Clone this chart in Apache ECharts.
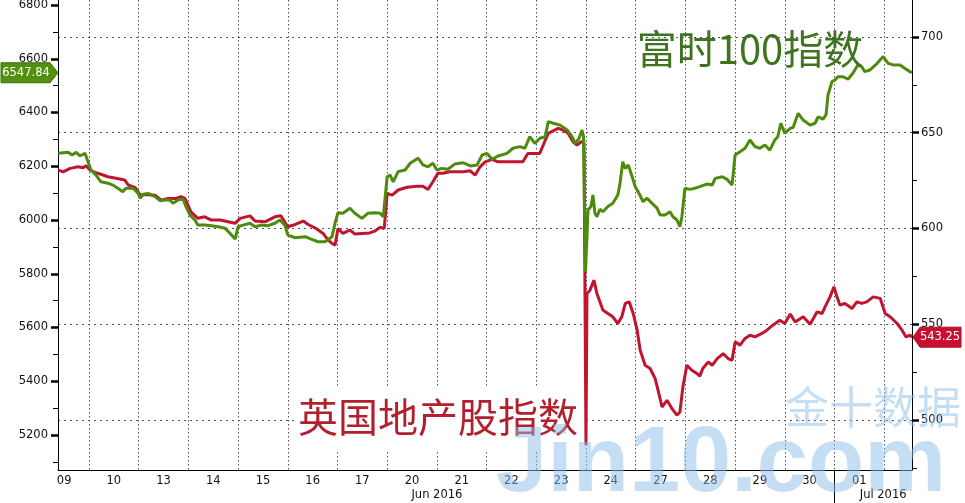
<!DOCTYPE html>
<html><head><meta charset="utf-8">
<script src="https://cdn.jsdelivr.net/npm/echarts@6/dist/echarts.min.js"></script>
<style>html,body{margin:0;padding:0;background:#fff}#c{width:965px;height:503px}</style>
</head><body><div id="c"></div>
<script>
// ---- data (x = trading-day position: day k spans [k-1, k]) ----
const dayLabels = ['09','10','13','14','15','16','17','20','21','22','23','24','27','28','29','30','01'];
const dayLabelPos = [0.5,1.5,2.5,3.5,4.5,5.5,6.5,7.5,8.5,9.5,10.5,11.5,12.5,13.5,14.5,15.5,16.5];
const dayBoundaries = [1,2,3,4,5,6,7,8,9,10,11,12,13,14,15,16,17];
const monthLabels = ['Jun 2016','Jul 2016'];
const monthLabelPos = [8.0, 16.98];
const monthBoundary = [16];
const leftMajor = [5200,5400,5600,5800,6000,6200,6400,6600,6800];
const leftMinor = [5100,5300,5500,5700,5900,6100,6300,6500,6700];
const rightMajor = [500,550,600,650,700];
const rightMinor = [475,525,575,625,675];

const ftseDays = [0.38,0.58,0.66,0.74,0.82,0.92,0.98,1.04,1.14,1.24,1.38,1.48,1.58,1.68,1.74,1.89,1.99,2.03,2.09,2.19,2.33,2.43,2.53,2.63,2.69,2.79,2.89,2.95,3.03,3.13,3.19,3.33,3.46,3.60,3.74,3.84,3.94,4.00,4.10,4.24,4.34,4.46,4.60,4.74,4.84,4.94,5.00,5.15,5.35,5.47,5.61,5.75,5.79,5.89,5.95,6.01,6.11,6.25,6.35,6.49,6.61,6.76,6.86,6.92,6.96,7.00,7.06,7.12,7.22,7.36,7.46,7.62,7.72,7.82,7.92,8.00,8.10,8.22,8.36,8.53,8.67,8.81,8.91,9.01,9.11,9.23,9.41,9.53,9.67,9.77,9.87,9.97,10.07,10.18,10.24,10.34,10.48,10.62,10.72,10.78,10.86,10.92,10.95,10.99,11.02,11.04,11.10,11.14,11.18,11.22,11.28,11.34,11.44,11.54,11.64,11.68,11.74,11.79,11.85,11.93,11.99,12.05,12.15,12.23,12.33,12.43,12.49,12.59,12.69,12.75,12.83,12.89,12.93,12.99,13.09,13.19,13.29,13.44,13.54,13.60,13.74,13.84,13.94,14.00,14.10,14.20,14.30,14.40,14.50,14.60,14.70,14.80,14.86,14.92,15.00,15.11,15.17,15.27,15.37,15.51,15.61,15.67,15.77,15.83,15.87,15.95,16.01,16.07,16.17,16.27,16.37,16.47,16.55,16.61,16.71,16.86,16.98,17.08,17.18,17.32,17.42,17.52,17.56];
const ftseValues = [6248,6252,6242,6252,6239,6248,6217,6186,6167,6142,6137,6130,6118,6105,6118,6118,6099,6081,6096,6099,6087,6072,6074,6074,6062,6074,6078,6050,6019,6000,5981,5981,5979,5975,5969,5950,5929,5975,5981,5988,5975,5981,5979,5988,6000,5981,5944,5934,5938,5929,5919,5919,5913,5938,5988,6027,6025,6044,6025,6006,6025,6027,6025,6012,6087,6161,6167,6142,6180,6186,6211,6230,6205,6198,6211,6186,6192,6189,6208,6213,6201,6205,6242,6248,6226,6238,6248,6267,6273,6267,6310,6285,6304,6310,6366,6360,6353,6335,6310,6285,6304,6335,6310,5808,5938,6037,6050,6093,6025,6012,6040,6031,6050,6062,6093,6130,6217,6192,6205,6161,6124,6105,6068,6081,6062,6044,6019,6019,6031,6012,6000,5975,6012,6118,6114,6118,6124,6134,6130,6155,6161,6151,6130,6242,6254,6267,6298,6273,6267,6279,6260,6298,6310,6360,6323,6341,6345,6397,6372,6353,6360,6384,6375,6391,6465,6515,6521,6533,6533,6524,6546,6577,6570,6552,6558,6583,6608,6583,6577,6577,6564,6552,6547.84];

const propDays = [0.38,0.48,0.62,0.78,0.88,0.94,1.02,1.12,1.24,1.38,1.54,1.72,1.79,1.93,2.03,2.13,2.33,2.45,2.59,2.75,2.85,2.93,3.05,3.19,3.33,3.46,3.64,3.80,3.94,4.04,4.24,4.34,4.54,4.74,4.86,5.00,5.15,5.31,5.41,5.57,5.71,5.81,5.89,5.95,6.01,6.11,6.25,6.35,6.49,6.65,6.76,6.86,6.94,7.00,7.10,7.22,7.40,7.60,7.72,7.82,7.92,8.02,8.12,8.26,8.41,8.53,8.67,8.77,8.87,8.97,9.11,9.23,9.41,9.57,9.73,9.83,9.97,10.07,10.14,10.24,10.34,10.44,10.54,10.64,10.74,10.82,10.90,10.96,11.00,11.02,11.08,11.12,11.16,11.22,11.28,11.34,11.44,11.54,11.64,11.72,11.79,11.87,11.95,12.03,12.09,12.19,12.29,12.39,12.45,12.53,12.63,12.73,12.83,12.89,12.95,13.03,13.13,13.23,13.29,13.35,13.46,13.54,13.64,13.76,13.86,13.94,14.00,14.10,14.20,14.30,14.40,14.54,14.64,14.76,14.90,15.00,15.11,15.21,15.37,15.51,15.65,15.75,15.81,15.91,15.99,16.05,16.11,16.21,16.35,16.45,16.55,16.65,16.78,16.92,17.02,17.12,17.26,17.36,17.44,17.52,17.56];
const propValues = [630.5,629.6,631.4,632.2,631.7,632.8,630.5,629.3,628.3,627.0,626.2,625.3,622.7,621.3,617.4,617.8,617.4,614.8,615.7,615.7,616.6,615.7,608.7,605.3,606.1,604.4,604.4,603.5,602.7,605.3,606.6,603.9,603.5,606.1,606.6,600.9,602.1,603.9,602.1,600.0,597.4,593.9,592.2,591.3,600.0,597.4,599.2,597.1,597.4,597.7,598.8,600.6,600.0,618.3,617.4,620.1,621.5,622.1,622.1,620.4,624.4,628.8,628.8,629.6,629.6,629.6,630.1,627.9,632.2,634.8,636.1,634.8,634.8,634.8,634.8,639.2,639.2,639.2,643.6,649.7,651.0,652.3,651.4,649.7,645.3,643.6,645.3,644.8,486.8,566.1,567.8,570.4,573.0,566.1,561.7,557.4,555.6,553.9,550.4,553.9,560.9,561.7,555.6,546.9,536.5,528.6,526.9,521.7,515.6,506.8,510.3,506.0,502.5,504.2,517.3,528.6,526.0,524.3,522.9,526.9,530.3,528.6,532.1,534.7,532.1,531.2,540.8,539.1,542.6,544.3,543.4,545.2,546.9,549.5,552.1,550.4,555.3,551.2,553.9,550.0,556.5,555.6,559.1,564.3,569.5,564.3,560.0,560.9,558.2,561.7,560.9,561.7,564.3,563.5,555.6,553.9,550.4,546.9,543.4,544.3,543.25];

const ftseName = '富时100指数';
const propName = '英国地产股指数';
const ftseLast = 6547.84;
const propLast = 543.25;

// ---- chart ----
const X_MIN = 0.376, X_MAX = 17.56;
const FONT = 'DejaVu Sans';
const GREEN = '#4e8a0e', RED = '#c0142f';
const chart = echarts.init(document.getElementById('c'), null, {renderer: 'canvas'});

const tickLabel = {fontFamily: FONT, fontSize: 11.5, color: '#111'};
const grid = {left: 58, right: 53, top: 0, bottom: 33, outerBoundsMode: 'none'};

function zip(xs, ys) { return xs.map((x, i) => [x, ys[i]]); }

const option = {
  animation: false,
  backgroundColor: '#fff',
  grid: grid,
  xAxis: [
    {
      type: 'value', min: X_MIN, max: X_MAX, position: 'bottom',
      axisLine: {show: true, onZero: false, lineStyle: {color: '#000', width: 1}},
      axisTick: {show: false, customValues: dayBoundaries},
      axisLabel: Object.assign({customValues: dayLabelPos, margin: 5,
        formatter: v => dayLabels[Math.round(v - 0.5)] || ''}, tickLabel),
      splitLine: {show: true, lineStyle: {color: '#555', type: [1.5, 2.5], width: 1}}
    },
    {
      type: 'value', min: X_MIN, max: X_MAX, position: 'bottom',
      axisLine: {show: false},
      axisTick: {show: true, customValues: monthBoundary, length: 33, inside: false, lineStyle: {color: '#000', width: 1}},
      axisLabel: Object.assign({customValues: monthLabelPos, margin: 19,
        formatter: v => monthLabels[monthLabelPos.indexOf(v)] || ''}, tickLabel),
      splitLine: {show: false}
    }
  ],
  yAxis: [
    {
      type: 'value', min: 5069.8, max: 6818.6, position: 'left',
      axisLine: {show: true, onZero: false, lineStyle: {color: '#000', width: 1}},
      axisTick: {show: true, customValues: leftMajor, length: 7, lineStyle: {color: '#000', width: 2.5}},
      axisLabel: Object.assign({customValues: leftMajor, margin: 10, formatter: v => String(v)}, tickLabel),
      splitLine: {show: false}
    },
    {
      type: 'value', min: 5069.8, max: 6818.6, position: 'left',
      axisLine: {show: false},
      axisTick: {show: true, customValues: leftMinor, length: 5, lineStyle: {color: '#000', width: 1}},
      axisLabel: {show: false}, splitLine: {show: false}
    },
    {
      type: 'value', min: 473.9, max: 719.3, position: 'right',
      axisLine: {show: true, onZero: false, lineStyle: {color: '#000', width: 1}},
      axisTick: {show: true, customValues: rightMajor, length: 7, lineStyle: {color: '#000', width: 2.5}},
      axisLabel: Object.assign({customValues: rightMajor, margin: 9, formatter: v => String(v)}, tickLabel),
      splitLine: {show: true, lineStyle: {color: '#555', type: [2, 4], width: 1}}
    },
    {
      type: 'value', min: 473.9, max: 719.3, position: 'right',
      axisLine: {show: false},
      axisTick: {show: true, customValues: rightMinor, length: 5, lineStyle: {color: '#000', width: 1}},
      axisLabel: {show: false}, splitLine: {show: false}
    }
  ],
  series: [
    {
      name: propName, type: 'line', xAxisIndex: 0, yAxisIndex: 2,
      data: zip(propDays, propValues), showSymbol: false, symbol: 'none',
      lineStyle: {color: RED, width: 3}, z: 3
    },
    {
      name: ftseName, type: 'line', xAxisIndex: 0, yAxisIndex: 0,
      data: zip(ftseDays, ftseValues), showSymbol: false, symbol: 'none',
      lineStyle: {color: GREEN, width: 3}, z: 4
    }
  ]
};
chart.setOption(option);

// ---- annotations, badges and watermark (anchored through the chart's scales) ----
const xL = chart.convertToPixel({xAxisIndex: 0}, X_MIN);
const xR = chart.convertToPixel({xAxisIndex: 0}, X_MAX);
const yG = chart.convertToPixel({yAxisIndex: 0}, ftseLast);
const yRd = chart.convertToPixel({yAxisIndex: 2}, propLast);
const wm = 'rgba(140,190,232,0.5)';

chart.setOption({
  graphic: [
    {type: 'rect', z: 5, shape: {x: 295, y: 386, width: 288, height: 66}, style: {fill: '#fff'}},
    {type: 'text', z: 6, x: 438, y: 417,
      style: {text: propName, fill: '#b21f2d', font: '40px "Noto Sans CJK SC"', align: 'center', verticalAlign: 'middle'}},
    {type: 'text', z: 6, x: 750, y: 49,
      style: {text: ftseName, fill: '#3e7320', font: '40px "Noto Sans CJK SC"', align: 'center', verticalAlign: 'middle'}},
    {type: 'text', z: 20, x: 873, y: 407,
      style: {text: '金十数据', fill: wm, font: '44px "Noto Sans CJK SC"', align: 'center', verticalAlign: 'middle'}},
    {type: 'text', z: 20, x: 496, y: 466,
      style: {text: 'Jin10.com', fill: wm, font: 'bold 92px "Liberation Sans"', align: 'left', verticalAlign: 'middle'}},
    {type: 'polygon', z: 30,
      shape: {points: [[1, yG - 10], [50, yG - 10], [xL, yG], [50, yG + 10], [1, yG + 10]]},
      style: {fill: '#52900f', stroke: '#3f700a', lineWidth: 1}},
    {type: 'text', z: 31, x: 26, y: yG,
      style: {text: ftseLast.toFixed(2), fill: '#fff', font: '11.5px "DejaVu Sans"', align: 'center', verticalAlign: 'middle'}},
    {type: 'polygon', z: 30,
      shape: {points: [[xR + 1, yRd], [xR + 8, yRd - 10], [961, yRd - 10], [961, yRd + 10], [xR + 8, yRd + 10]]},
      style: {fill: '#c8102e', stroke: '#a80d25', lineWidth: 1}},
    {type: 'text', z: 31, x: 940, y: yRd,
      style: {text: propLast.toFixed(2), fill: '#fff', font: '11.5px "DejaVu Sans"', align: 'center', verticalAlign: 'middle'}}
  ]
});
</script>
</body></html>
